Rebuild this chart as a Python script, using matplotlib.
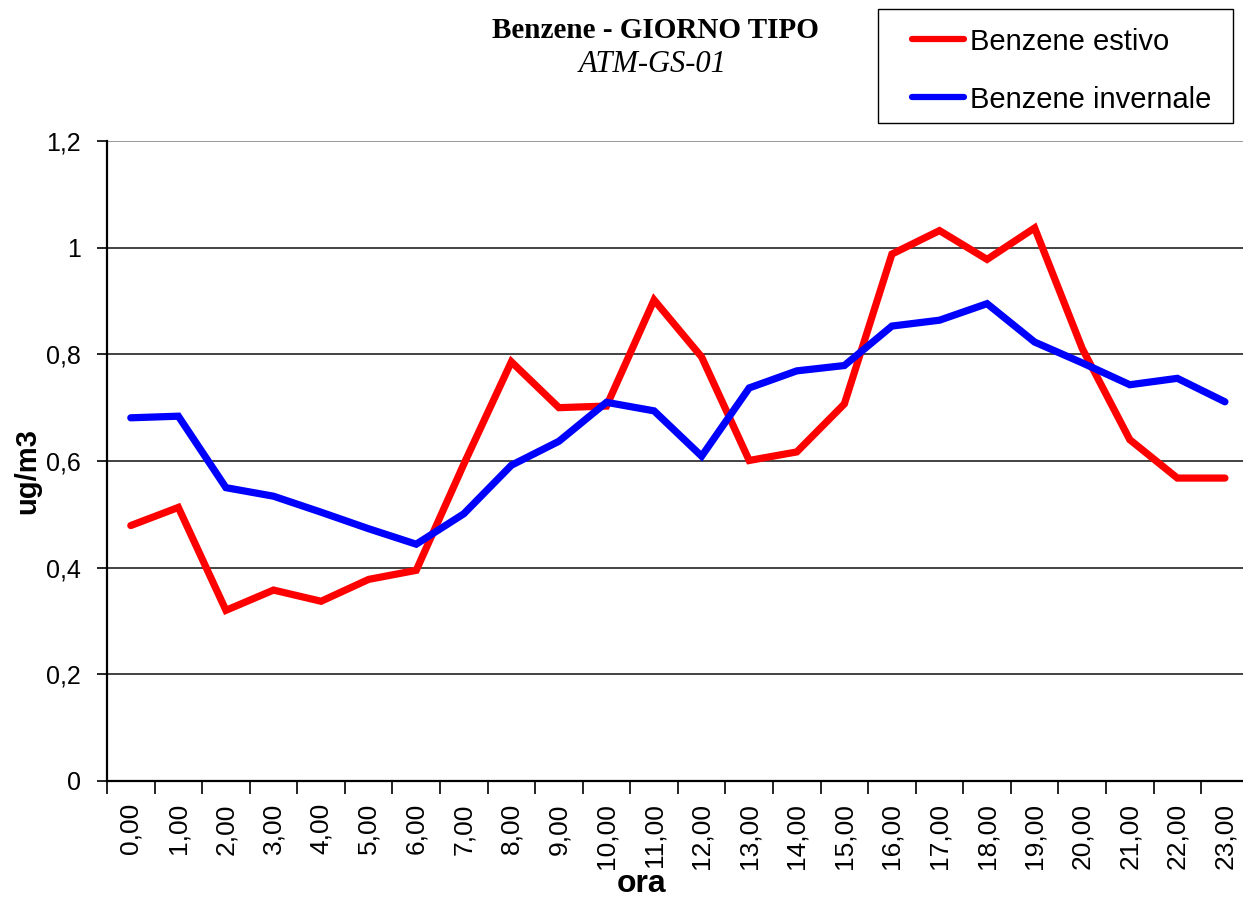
import matplotlib
matplotlib.use("Agg")
import matplotlib.pyplot as plt
from matplotlib.ticker import FixedLocator
from matplotlib.lines import Line2D
from matplotlib.patches import Rectangle

hours = ["0,00", "1,00", "2,00", "3,00", "4,00", "5,00", "6,00", "7,00", "8,00", "9,00",
         "10,00", "11,00", "12,00", "13,00", "14,00", "15,00", "16,00", "17,00", "18,00",
         "19,00", "20,00", "21,00", "22,00", "23,00"]
estivo = [0.479, 0.513, 0.320, 0.358, 0.337, 0.378, 0.395, 0.594, 0.786, 0.700, 0.703, 0.902,
          0.795, 0.601, 0.617, 0.707, 0.988, 1.032, 0.978, 1.037, 0.811, 0.640, 0.568, 0.568]
invernale = [0.681, 0.684, 0.550, 0.534, 0.504, 0.473, 0.444, 0.501, 0.592, 0.637, 0.710, 0.694,
             0.609, 0.737, 0.769, 0.779, 0.853, 0.864, 0.895, 0.823, 0.784, 0.743, 0.755, 0.711]
series_labels = ["Benzene estivo", "Benzene invernale"]
series_colors = ["#ff0000", "#0000ff"]
yticks = [0, 0.2, 0.4, 0.6, 0.8, 1.0, 1.2]
ytick_labels = ["0", "0,2", "0,4", "0,6", "0,8", "1", "1,2"]

plt.rcParams['font.family'] = ['Liberation Sans', 'DejaVu Sans']

W, H = 1243, 898
fig = plt.figure(figsize=(W / 100, H / 100), dpi=100)
left, right, top, bottom = 107, 1243, 141, 781
ax = fig.add_axes([left / W, 1 - bottom / H, (right - left) / W, (bottom - top) / H])

x = list(range(len(hours)))
for vals, col, lab in zip([estivo, invernale], series_colors, series_labels):
    ax.plot(x, vals, color=col, lw=5.2, solid_capstyle='round', solid_joinstyle='miter',
            label=lab, zorder=3)

ax.set_xlim(-0.5, 23.38)
ax.set_ylim(0, 1.2)

ax.set_yticks(yticks)
ax.set_yticklabels(ytick_labels, fontsize=18)
for yv in yticks[1:]:
    ax.axhline(yv, color='#222222' if yv < 1.2 else '#888888', lw=1.2, zorder=1)

ax.xaxis.set_major_locator(FixedLocator(x))
ax.set_xticklabels(hours, rotation=90, fontsize=19, va='top')
ax.xaxis.set_minor_locator(FixedLocator([i - 0.5 for i in range(len(hours) + 1)]))
ax.tick_params(axis='x', which='major', length=0, pad=16)
ax.tick_params(axis='x', which='minor', length=9, width=1.2, color='black', direction='out')
ax.tick_params(axis='y', which='major', length=7, width=1.2, direction='out', pad=12)

for s in ['top', 'right']:
    ax.spines[s].set_visible(False)
ax.spines['left'].set_linewidth(1.6)
ax.spines['bottom'].set_linewidth(1.6)

fig.text(27 / W, 1 - 471 / H, 'ug/m3', fontsize=21, fontweight='bold', rotation=90,
         ha='center', va='center')
fig.text(642 / W, 1 - 892 / H, 'ora', fontsize=23, fontweight='bold', ha='center', va='baseline')

fig.text(655 / W, 1 - 38 / H, 'Benzene - GIORNO TIPO', fontsize=21, fontweight='bold',
         family=['Liberation Serif'], ha='center', va='baseline')
fig.text(653 / W, 1 - 72 / H, 'ATM-GS-01', fontsize=22, style='italic',
         family=['Liberation Serif'], ha='center', va='baseline')

# legend box drawn in figure pixels
fx = lambda px: px / W
fy = lambda py: 1 - py / H
fig.patches.append(Rectangle((fx(878), fy(123)), fx(1233) - fx(878), fy(9) - fy(123),
                             transform=fig.transFigure, facecolor='white', edgecolor='black',
                             lw=1.0, zorder=5))
for lab, col, py in zip(series_labels, series_colors, [39, 97]):
    fig.lines.append(Line2D([fx(912), fx(964)], [fy(py), fy(py)], transform=fig.transFigure,
                            color=col, lw=4.5, solid_capstyle='round', zorder=6))
    fig.text(fx(970), fy(py), lab, fontsize=21, ha='left', va='center_baseline', zorder=6)

fig.savefig('out.png', dpi=100)
